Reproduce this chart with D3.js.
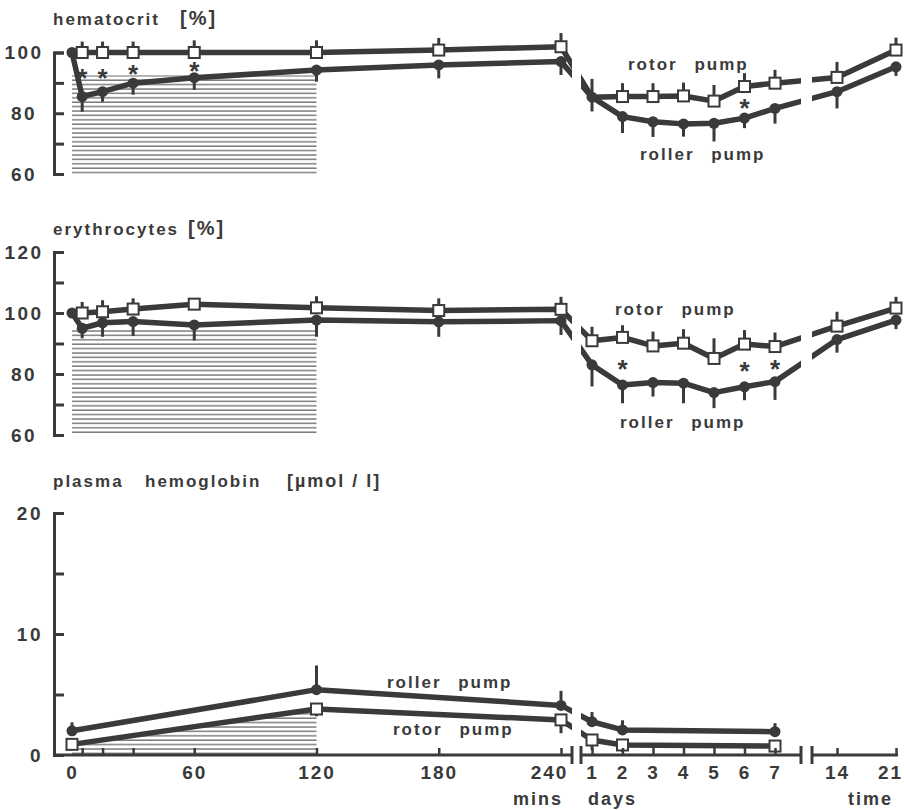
<!DOCTYPE html>
<html><head><meta charset="utf-8">
<script src="https://cdn.jsdelivr.net/npm/d3@7"></script>
<style>
body{margin:0;background:#fff;}
svg text{font-family:"Liberation Sans",Arial,sans-serif;font-weight:bold;fill:#3a3a3a;}
</style></head><body><svg id="c" width="904" height="810"></svg>
<script>
// ---------- DATA ----------
const minTimes = [0,5,15,30,60,120,180,240];
const dayTimes = [1,2,3,4,5,6,7];
const weekTimes = [14,21];
const minTickValues = [5,15,30,60,120,180,240];
const minLabelValues = [0,60,120,180,240];
const weekLabelValues = [14,21];

// hematocrit [%]
const hctRotorMin   = [100,100,100,100,100,100,100.8,101.9];
const hctRotorDay   = [85.3,85.5,85.5,85.7,84.0,88.8,89.9];
const hctRotorWeek  = [91.8,100.8];
const hctRollerMin  = [100,85.5,87.1,89.9,91.7,94.2,95.9,97.0];
const hctRollerDay  = [85.3,78.9,77.2,76.5,76.7,78.4,81.6];
const hctRollerWeek = [87.1,95.3];
const hctRotorSdMin   = [0,3.6,3.6,3.6,4,4,4,4.5];
const hctRotorSdDay   = [6,4.4,4.4,4.4,5.3,4.4,4.4];
const hctRotorSdWeek  = [5.1,4.1];
const hctRollerSdMin  = [0,5,3.3,3.8,4,3.8,4.4,4.4];
const hctRollerSdDay  = [4.7,5.4,5,4.2,6,3.3,5];
const hctRollerSdWeek = [5.5,3];
const hctStarMin = [5,15,30,60];
const hctStarMinVal = [93.6,93.6,94.9,95.9];
const hctStarDay = [6];
const hctStarDayVal = [83.8];

// erythrocytes [%]
const eryRotorMin   = [100,100,100.4,101.3,102.9,101.7,100.8,101.2];
const eryRotorDay   = [90.9,92.0,89.2,90.1,85.1,89.8,89.0];
const eryRotorWeek  = [95.7,101.6];
const eryRollerMin  = [100,95.0,96.8,97.2,96.1,97.7,97.1,97.5];
const eryRollerDay  = [83.0,76.4,77.2,77.0,73.9,75.8,77.5];
const eryRollerWeek = [91.3,97.7];
const eryRotorSdMin   = [0,3.6,3.8,3.5,1,3.8,4,4.1];
const eryRotorSdDay   = [4.6,4,4.7,4.6,6.6,4.6,4.6];
const eryRotorSdWeek  = [4.7,3.7];
const eryRollerSdMin  = [0,3.3,4.6,4.7,5.1,5.5,4.9,4.7];
const eryRollerSdDay  = [7.1,6,4.6,6.6,5.1,4.4,6];
const eryRollerSdWeek = [4.3,3];
const eryStarDay = [2,6,7];
const eryStarDayVal = [83.6,83.0,83.6];

// plasma hemoglobin [µmol/l]
const hbMinTimes = [0,120,240];
const hbDayTimes = [1,2,7];
const hbRollerMin = [2.0,5.4,4.1];
const hbRollerDay = [2.75,2.07,1.93];
const hbRotorMin  = [0.88,3.8,2.9];
const hbRotorDay  = [1.24,0.83,0.74];
const hbRollerSdMin = [0.7,2.0,1.2];
const hbRollerSdDay = [0.8,0.8,0.7];
const hbRotorSdMin  = [0.3,0.6,1.1];
const hbRotorSdDay  = [0.8,0.6,0.5];

// ---------- LAYOUT ----------
const ink = "#3a3a3a";
const svg = d3.select("#c");
const xMin  = d3.scaleLinear().domain([0,240]).range([72,561]);
const xDay  = d3.scaleLinear().domain([1,7]).range([592,775]);
const xWeek = d3.scaleLinear().domain([14,21]).range([837,896]);
const axisX0 = 54;
const gaps = [[572,581],[801,812]];

const defs = svg.append("defs");
const cp = defs.append("clipPath").attr("id","brk");
[[0,gaps[0][0]],[gaps[0][1],gaps[1][0]],[gaps[1][1],904]].forEach(r=>{
  cp.append("rect").attr("x",r[0]).attr("y",0).attr("width",r[1]-r[0]).attr("height",810);
});
const pat = defs.append("pattern").attr("id","hatch").attr("patternUnits","userSpaceOnUse")
  .attr("width",10).attr("height",4.4);
pat.append("rect").attr("width",10).attr("height",4.4).attr("fill","#fff");
pat.append("line").attr("x1",0).attr("x2",10).attr("y1",1).attr("y2",1)
  .attr("stroke","#6a6a6a").attr("stroke-width",1.3);

function pts(times, vals, sds, sc){ return times.map((t,i)=>({x:sc(t), v:vals[i], sd:sds[i]})); }

function drawPanel(o){
  const g = svg.append("g");
  const y = o.y;
  if (o.hatchTop !== undefined){
    g.append("rect").attr("x",xMin(0)).attr("width",xMin(120)-xMin(0))
      .attr("y",y(o.hatchTop)).attr("height",y(o.y.domain()[0])-y(o.hatchTop))
      .attr("fill","url(#hatch)");
  }
  if (o.hatchArea){
    const a = d3.area().x(d=>d.x).y0(y(0)).y1(d=>y(d.v));
    g.append("path").attr("d",a(o.hatchArea)).attr("fill","url(#hatch)");
  }
  const ax = d3.axisLeft(y).tickValues(o.ticks).tickSizeInner(-10).tickSizeOuter(-10)
    .tickFormat(d=>o.labels.includes(d)?d:"");
  const ag = g.append("g").attr("transform",`translate(${axisX0},0)`).call(ax);
  ag.select(".domain").attr("stroke",ink).attr("stroke-width",3);
  ag.selectAll(".tick line").attr("stroke",ink).attr("stroke-width",3);
  ag.selectAll(".tick text").attr("x",o.labelX-axisX0).attr("text-anchor",o.labelAnchor)
    .style("font-size","19px").style("letter-spacing","2.5px").attr("fill",ink);

  const lg = g.append("g").attr("clip-path","url(#brk)");
  const line = d3.line().x(d=>d.x).y(d=>y(d.v));
  [o.rotor,o.roller].forEach(s=>{
    lg.append("path").attr("d",line(s)).attr("fill","none").attr("stroke",ink)
      .attr("stroke-width",5.5).attr("stroke-linejoin","round");
  });
  const eb = (s,dir)=>g.append("g").selectAll("line").data(s.filter(d=>d.sd>0)).join("line")
    .attr("x1",d=>d.x).attr("x2",d=>d.x).attr("y1",d=>y(d.v)).attr("y2",d=>y(d.v+dir*d.sd))
    .attr("stroke",ink).attr("stroke-width",3);
  eb(o.rotor,o.rotorDir); eb(o.roller,o.rollerDir);
  g.append("g").selectAll("circle").data(o.roller).join("circle")
    .attr("cx",d=>d.x).attr("cy",d=>y(d.v)).attr("r",5.5).attr("fill",ink);
  const rollerKey = new Set(o.roller.map(d=>d.x+"_"+d.v));
  g.append("g").selectAll("rect").data(o.rotor.filter(d=>!rollerKey.has(d.x+"_"+d.v))).join("rect")
    .attr("x",d=>d.x-5.5).attr("y",d=>y(d.v)-5.5).attr("width",11).attr("height",11)
    .attr("fill","#fff").attr("stroke",ink).attr("stroke-width",2);
  if (o.stars){
    g.append("g").selectAll("text").data(o.stars).join("text")
      .attr("x",d=>d.x).attr("y",d=>y(d.v)+15).attr("text-anchor","middle")
      .style("font-size","26px").text("*");
  }
  o.texts.forEach(t=>{
    g.append("text").attr("x",t[0]).attr("y",t[1]).style("font-size","17px")
      .style("letter-spacing","2px").style("word-spacing","10px").text(t[2]);
  });
  const tt = g.append("text").attr("x",53).attr("y",o.titleY).style("font-size","17px").style("letter-spacing","2px");
  o.title.forEach(p=>{
    tt.append("tspan").attr("x",p[0]).style("font-size",p[2]||"17px").text(p[1]);
  });
  return g;
}

// Panel 1 hematocrit
const y1 = d3.scaleLinear().domain([60,100]).range([174,52.5]);
drawPanel({
  y:y1, ticks:[60,70,80,90,100], labels:[60,80,100], labelX:24, labelAnchor:"middle",
  hatchTop:92.5,
  rotor: pts(minTimes,hctRotorMin,hctRotorSdMin,xMin).concat(pts(dayTimes,hctRotorDay,hctRotorSdDay,xDay),pts(weekTimes,hctRotorWeek,hctRotorSdWeek,xWeek)),
  roller: pts(minTimes,hctRollerMin,hctRollerSdMin,xMin).concat(pts(dayTimes,hctRollerDay,hctRollerSdDay,xDay),pts(weekTimes,hctRollerWeek,hctRollerSdWeek,xWeek)),
  rotorDir:1, rollerDir:-1,
  stars: hctStarMin.map((t,i)=>({x:xMin(t),v:hctStarMinVal[i]})).concat(hctStarDay.map((t,i)=>({x:xDay(t),v:hctStarDayVal[i]}))),
  texts:[[628,70,"rotor pump"],[640,160,"roller pump"]],
  titleY:25, title:[[53,"hematocrit"],[180,"[%]","20px"]]
});

// Panel 2 erythrocytes
const y2 = d3.scaleLinear().domain([60,120]).range([435,252]);
drawPanel({
  y:y2, ticks:[60,70,80,90,100,110,120], labels:[60,80,100,120], labelX:24, labelAnchor:"middle",
  hatchTop:94.5,
  rotor: pts(minTimes,eryRotorMin,eryRotorSdMin,xMin).concat(pts(dayTimes,eryRotorDay,eryRotorSdDay,xDay),pts(weekTimes,eryRotorWeek,eryRotorSdWeek,xWeek)),
  roller: pts(minTimes,eryRollerMin,eryRollerSdMin,xMin).concat(pts(dayTimes,eryRollerDay,eryRollerSdDay,xDay),pts(weekTimes,eryRollerWeek,eryRollerSdWeek,xWeek)),
  rotorDir:1, rollerDir:-1,
  stars: eryStarDay.map((t,i)=>({x:xDay(t),v:eryStarDayVal[i]})),
  texts:[[615,315,"rotor pump"],[620,428,"roller pump"]],
  titleY:235, title:[[53,"erythrocytes"],[188,"[%]","20px"]]
});

// Panel 3 plasma hemoglobin
const y3 = d3.scaleLinear().domain([0,20]).range([755,513]);
const hbRotor = pts(hbMinTimes,hbRotorMin,hbRotorSdMin,xMin).concat(pts(hbDayTimes,hbRotorDay,hbRotorSdDay,xDay));
drawPanel({
  y:y3, ticks:[0,5,10,15,20], labels:[0,10,20], labelX:43, labelAnchor:"end",
  hatchArea: hbRotor.filter(d=>d.x<=xMin(120)),
  rotor: hbRotor,
  roller: pts(hbMinTimes,hbRollerMin,hbRollerSdMin,xMin).concat(pts(hbDayTimes,hbRollerDay,hbRollerSdDay,xDay)),
  rotorDir:-1, rollerDir:1,
  texts:[[387,688,"roller pump"],[393,735,"rotor pump"]],
  titleY:487, title:[[53,"plasma"],[145,"hemoglobin"],[287,"[µmol / l]","18px"]]
});

// X axis (bottom)
const xg = svg.append("g");
const yb = y3(0);
[[axisX0,gaps[0][0]],[gaps[0][1],gaps[1][0]],[gaps[1][1],898]].forEach(r=>{
  xg.append("line").attr("x1",r[0]).attr("x2",r[1]).attr("y1",yb).attr("y2",yb)
    .attr("stroke",ink).attr("stroke-width",3);
});
[gaps[0][0],gaps[0][1],gaps[1][0],gaps[1][1]].forEach(x=>{
  xg.append("line").attr("x1",x).attr("x2",x).attr("y1",yb-9).attr("y2",yb+9)
    .attr("stroke",ink).attr("stroke-width",3);
});
function xAxis(sc, tv, lv){
  const a = d3.axisBottom(sc).tickValues(tv).tickSizeInner(-7).tickSizeOuter(0).tickPadding(11)
    .tickFormat(d=>lv.includes(d)?d:"");
  const g = xg.append("g").attr("transform",`translate(0,${yb})`).call(a);
  g.select(".domain").remove();
  g.selectAll(".tick line").attr("stroke",ink).attr("stroke-width",2.5);
  g.selectAll(".tick text").style("font-size","19px").style("letter-spacing","2px").attr("fill",ink);
  return g;
}
const gm = xAxis(xMin, [0].concat(minTickValues), minLabelValues);
gm.selectAll(".tick").filter(d=>d===0).select("line").remove();
gm.selectAll(".tick").filter(d=>d===240).select("text").attr("dx",-12);
xAxis(xDay, dayTimes, dayTimes);
const gw = xAxis(xWeek, weekTimes, weekLabelValues);
gw.selectAll(".tick").filter(d=>d===21).select("text").attr("dx",-6);
[[513,805,"mins"],[588,805,"days"],[848,805,"time"]].forEach(t=>{
  xg.append("text").attr("x",t[0]).attr("y",t[1]).style("font-size","18px").style("letter-spacing","2px").text(t[2]);
});
</script></body></html>
